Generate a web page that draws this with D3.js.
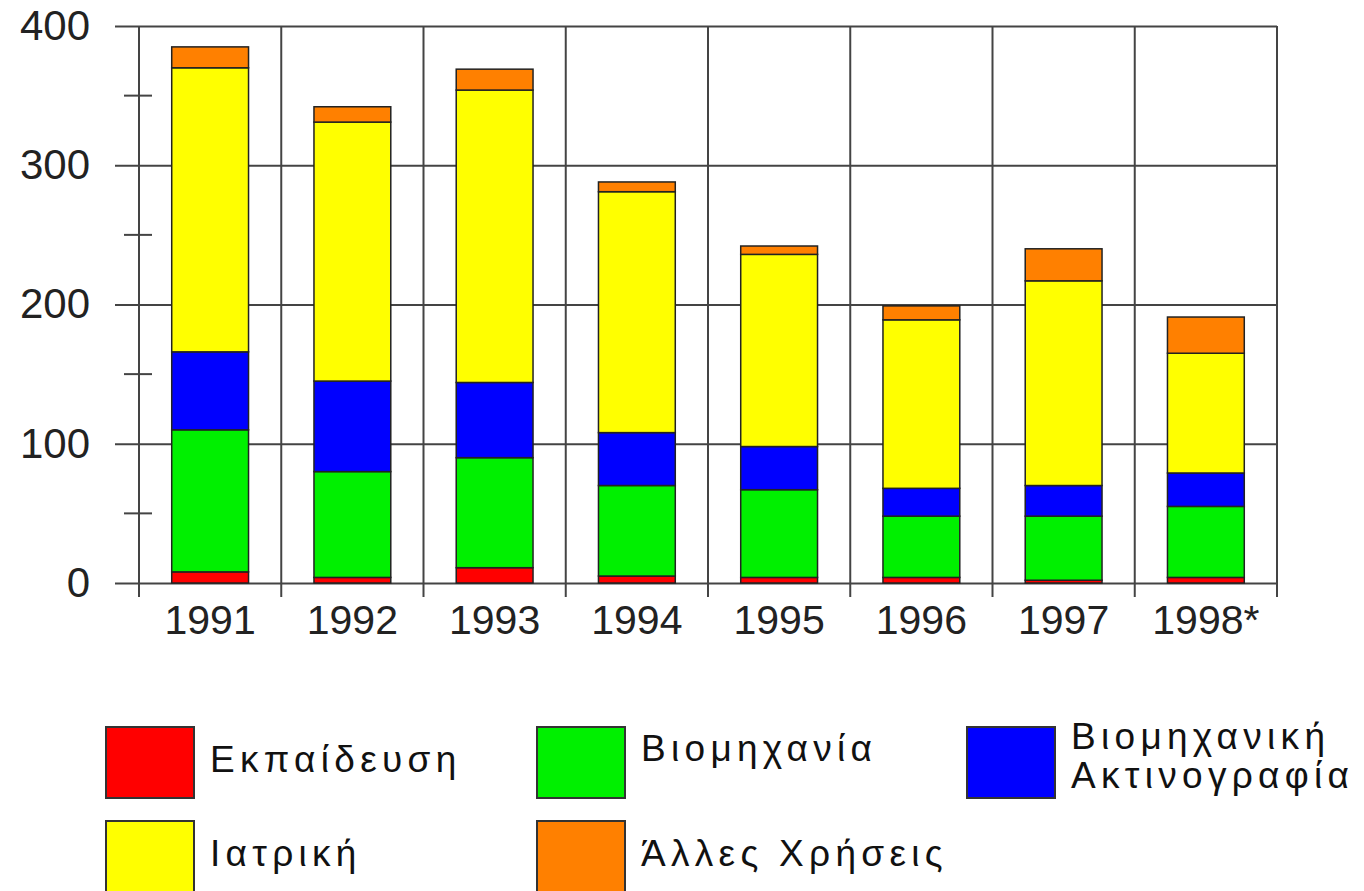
<!DOCTYPE html>
<html>
<head>
<meta charset="utf-8">
<script src="https://cdn.jsdelivr.net/npm/d3@7"></script>
<style>
  body { margin: 0; background: #fff; }
  .tick text { fill: #222; font-family: "Liberation Sans", Arial, sans-serif; }
  .legend { font-family: "Liberation Sans", sans-serif; fill: #111; }
</style>
</head>
<body>
<div id="chart"></div>
<script>
// data
var years = ["1991", "1992", "1993", "1994", "1995", "1996", "1997", "1998*"];
var education = [8, 4, 11, 5, 4, 4, 2, 4];
var industry = [102, 76, 79, 65, 63, 44, 46, 51];
var radiography = [56, 65, 54, 38, 31, 20, 22, 24];
var medical = [204, 186, 210, 173, 138, 121, 147, 86];
var other = [15, 11, 15, 7, 6, 10, 23, 26];
var seriesKeys = ["education", "industry", "radiography", "medical", "other"];
var seriesNames = [["Εκπαίδευση"], ["Βιομηχανία"], ["Βιομηχανική", "Ακτινογραφία"],
    ["Ιατρική"], ["Άλλες Χρήσεις"]];
var seriesColours = ["#ff0000", "#00f000", "#0000ff", "#ffff00", "#ff8000"];
var yTicks = [0, 100, 200, 300, 400];
var yMinorTicks = [50, 150, 250, 350];

var chartWidth = 1364, chartHeight = 891;
var plotLeft = 139, plotRight = 1277, plotTop = 26, plotBottom = 583;

var table = years.map(function(y, i) {
    return {year: y, education: education[i], industry: industry[i],
        radiography: radiography[i], medical: medical[i], other: other[i]};
});
var stacked = d3.stack().keys(seriesKeys)(table);

var svg = d3.select("#chart").append("svg")
    .attr("width", chartWidth)
    .attr("height", chartHeight);

// scales
var x = d3.scaleBand()
    .domain(years)
    .range([plotLeft, plotRight])
    .paddingInner(0.46)
    .paddingOuter(0.23);
var y = d3.scaleLinear()
    .domain([0, 400])
    .range([plotBottom, plotTop]);

// horizontal grid + y labels
var yAxis = d3.axisLeft(y)
    .tickValues(yTicks)
    .tickSize(plotRight - 115)
    .tickPadding(25);
var gy = svg.append("g")
    .attr("transform", "translate(" + plotRight + ",0)")
    .call(yAxis);
gy.select(".domain").remove();
gy.selectAll(".tick line").attr("stroke", "#444").attr("stroke-width", 2);
gy.selectAll(".tick text").style("font-size", "42px");

// minor ticks
svg.append("g").selectAll("line")
    .data(yMinorTicks).enter()
    .append("line")
    .attr("x1", 124).attr("x2", 152)
    .attr("y1", function(d) { return y(d); })
    .attr("y2", function(d) { return y(d); })
    .attr("stroke", "#444").attr("stroke-width", 2);

// vertical grid at band edges
var edges = years.map(function(d) { return x(d) - x.step() * x.paddingInner() / 2; });
edges.push(plotRight);
svg.append("g").selectAll("line")
    .data(edges).enter()
    .append("line")
    .attr("x1", function(d) { return d; })
    .attr("x2", function(d) { return d; })
    .attr("y1", plotTop).attr("y2", plotBottom + 14)
    .attr("stroke", "#444").attr("stroke-width", 2);

// bars
svg.append("g").selectAll("g")
    .data(stacked).enter()
    .append("g")
    .attr("fill", function(d, i) { return seriesColours[i]; })
    .selectAll("rect")
    .data(function(d) { return d; }).enter()
    .append("rect")
    .attr("x", function(d) { return x(d.data.year); })
    .attr("width", x.bandwidth())
    .attr("y", function(d) { return y(d[1]); })
    .attr("height", function(d) { return y(d[0]) - y(d[1]); })
    .attr("stroke", "#222")
    .attr("stroke-width", 1.5);

// x labels
var xAxis = d3.axisBottom(x).tickSize(0).tickPadding(22);
var gx = svg.append("g")
    .attr("transform", "translate(0," + plotBottom + ")")
    .call(xAxis);
gx.select(".domain").remove();
gx.selectAll(".tick text").style("font-size", "41px");

// legend
var legendX = [106, 537, 967];
var legendY = [727, 821];
var legend = svg.append("g").selectAll("g")
    .data(seriesNames).enter()
    .append("g")
    .attr("transform", function(d, i) {
        return "translate(" + legendX[i % 3] + "," + legendY[Math.floor(i / 3)] + ")";
    });
legend.append("rect")
    .attr("width", 88).attr("height", 71)
    .attr("fill", function(d, i) { return seriesColours[i]; })
    .attr("stroke", "#333").attr("stroke-width", 2);
legend.append("text")
    .attr("class", "legend")
    .attr("x", 104)
    .attr("y", function(d, i) { return d.length > 1 ? 22 : (i == 1 ? 34 : 45); })
    .style("font-size", "37px")
    .style("letter-spacing", "5.3px")
    .selectAll("tspan")
    .data(function(d) { return d; }).enter()
    .append("tspan")
    .attr("x", 104)
    .attr("dy", function(d, i) { return i == 0 ? 0 : 39; })
    .text(function(d) { return d; });
</script>
</body>
</html>
